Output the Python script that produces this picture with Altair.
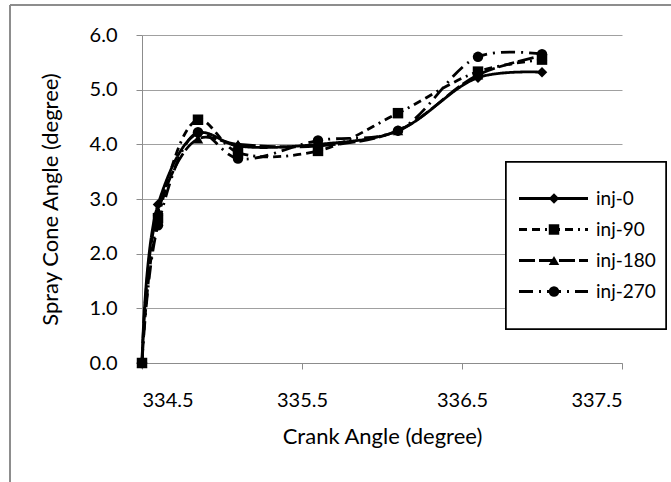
import altair as alt
import pandas as pd

crank = [334.5, 334.6, 334.85, 335.1, 335.6, 336.1, 336.6, 337.0]
inj0 = [0.0, 2.90, 4.20, 3.97, 4.00, 4.25, 5.22, 5.32]
inj90 = [0.0, 2.65, 4.45, 3.85, 3.88, 4.57, 5.33, 5.55]
inj180 = [0.0, 2.78, 4.10, 4.00, 3.97, 4.25, 5.27, 5.62]
inj270 = [0.0, 2.52, 4.22, 3.74, 4.07, 4.25, 5.60, 5.65]
series_names = ["inj-0", "inj-90", "inj-180", "inj-270"]
series_vals = [inj0, inj90, inj180, inj270]
x_ticks = [334.5, 335.5, 336.5, 337.5]
y_ticks = [0, 1, 2, 3, 4, 5, 6]

rows = []
for name, vals in zip(series_names, series_vals):
    for xv, yv in zip(crank, vals):
        rows.append({"series": name, "crank": xv, "angle": yv})
df = pd.DataFrame(rows)
leg = pd.DataFrame({"series": series_names, "idx": list(range(len(series_names)))})

FONT = "Lato"
dash_scale = alt.Scale(domain=series_names,
                       range=[[1, 0], [8, 5, 8, 5, 2, 5], [16, 4], [14, 6, 2, 6]])
shape_scale = alt.Scale(domain=series_names, range=["diamond", "square", "triangle-up", "circle"])
color_scale = alt.Scale(domain=series_names, range=["#000000"] * 4)

xenc = alt.X("crank:Q", scale=alt.Scale(domain=[334.5, 337.5], nice=False, zero=False),
             axis=alt.Axis(values=x_ticks, format=".1f", grid=False, title="Crank Angle (degree)",
                           tickSize=6, labelPadding=21, titleY=73, titleBaseline="middle",
                           domainColor="#8c8c8c", tickColor="#8c8c8c"))
yenc = alt.Y("angle:Q", scale=alt.Scale(domain=[0, 6], nice=False),
             axis=alt.Axis(values=y_ticks, format=".1f", grid=True, gridColor="#a0a0a0",
                           title="Spray Cone Angle (degree)", tickSize=6, labelPadding=19,
                           titleX=-92, titleY=164, titleAngle=-90, titleAlign="center",
                           titleBaseline="middle", domainColor="#8c8c8c", tickColor="#8c8c8c"))

base = alt.Chart(df)
lines = base.mark_line(interpolate="catmull-rom", strokeWidth=2.8).encode(
    x=xenc, y=yenc,
    strokeDash=alt.StrokeDash("series:N", scale=dash_scale, legend=None),
    color=alt.Color("series:N", scale=color_scale, legend=None),
    detail="series:N",
)
points = base.mark_point(filled=True, size=110, opacity=1).encode(
    x="crank:Q", y="angle:Q",
    shape=alt.Shape("series:N", scale=shape_scale, legend=None),
    color=alt.Color("series:N", scale=color_scale, legend=None),
)

# chart border
border_left = alt.Chart(leg).mark_rule(color="#8c8c8c", strokeWidth=1.5).encode(
    x=alt.value(-132), y=alt.value(-30), y2=alt.value(450))
border_top = alt.Chart(leg).mark_rule(color="#8c8c8c", strokeWidth=1.5).encode(
    x=alt.value(-132), x2=alt.value(540), y=alt.value(-30))

# legend
lbox = alt.Chart(leg).mark_rect(fill="white", stroke="black", strokeWidth=1.5).encode(
    x=alt.value(364), x2=alt.value(524), y=alt.value(127), y2=alt.value(294))
ly = alt.Y("idx:O", scale=alt.Scale(domain=[0, 1, 2, 3], range=[148, 272]), axis=None)
lrule = alt.Chart(leg).mark_rule(strokeWidth=2.8).encode(
    x=alt.value(377), x2=alt.value(446), y=ly,
    strokeDash=alt.StrokeDash("series:N", scale=dash_scale, legend=None),
    color=alt.Color("series:N", scale=color_scale, legend=None))
lpt = alt.Chart(leg).mark_point(filled=True, size=110, opacity=1).encode(
    x=alt.value(412), y=ly,
    shape=alt.Shape("series:N", scale=shape_scale, legend=None),
    color=alt.Color("series:N", scale=color_scale, legend=None))
ltxt = alt.Chart(leg).mark_text(align="left", baseline="middle", font=FONT, fontSize=19,
                                color="black").encode(x=alt.value(454), y=ly, text="series:N")

main = alt.layer(lines, points)
legend_layer = alt.layer(lbox, lrule, lpt, ltxt)

chart = alt.layer(border_left, border_top, main, legend_layer).resolve_scale(
    y="independent", x="independent"
).properties(
    width=480, height=328,
    autosize=alt.AutoSizeParams(type="none"),
    padding={"left": 142, "top": 35, "right": 49, "bottom": 119},
    background="white",
).configure_view(stroke=None).configure_axis(
    labelFont=FONT, titleFont=FONT, labelFontSize=20, titleFontSize=22,
    labelColor="black", titleColor="black", titleFontWeight="normal",
)

chart.save("out.html", embed_options={"renderer": "svg", "actions": False})
